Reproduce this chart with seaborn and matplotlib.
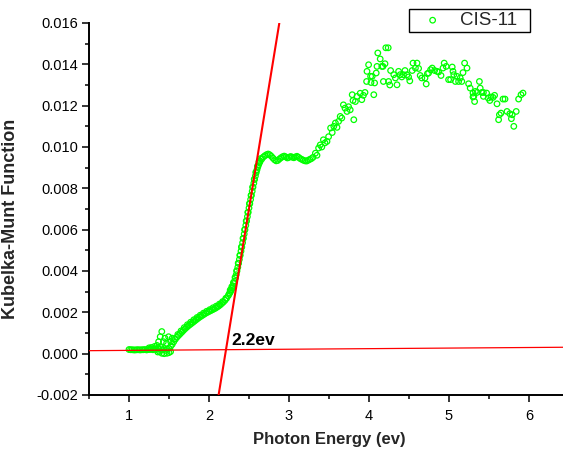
import numpy as np
import pandas as pd
import seaborn as sns
import matplotlib
matplotlib.use("Agg")
import matplotlib.pyplot as plt
from matplotlib.ticker import MultipleLocator, FormatStrFormatter

# ---------------- data ----------------
series_name = "CIS-11"

energy_low = [1.00, 1.02, 1.04, 1.06, 1.08, 1.10, 1.12, 1.14, 1.16, 1.18,
              1.20, 1.22, 1.24, 1.26, 1.28, 1.30, 1.32, 1.34, 1.36, 1.38,
              1.40, 1.42, 1.44, 1.46, 1.48, 1.50, 1.52, 1.54, 1.56, 1.58,
              1.60, 1.62, 1.64, 1.66, 1.68, 1.70, 1.72, 1.74, 1.76, 1.78,
              1.80, 1.82, 1.84, 1.86, 1.88, 1.90, 1.92, 1.94, 1.96, 1.98,
              2.00, 2.02, 2.04, 2.06, 2.08, 2.10, 2.12, 2.14, 2.16, 2.18,
              2.20, 2.22, 2.24]
km_low = [0.00020, 0.00019, 0.00019, 0.00018, 0.00018, 0.00019, 0.00019, 0.00018, 0.00019, 0.00019,
          0.00020, 0.00018, 0.00020, 0.00020, 0.00022, 0.00019, 0.00024, 0.00020, 0.00028, 0.00022,
          0.00030, 0.00018, 0.00024, 0.00016, 0.00022, 0.00026, 0.00035, 0.00045, 0.00058, 0.00070,
          0.00080, 0.00088, 0.00096, 0.00104, 0.00112, 0.00120, 0.00127, 0.00134, 0.00140, 0.00146,
          0.00152, 0.00158, 0.00164, 0.00170, 0.00176, 0.00181, 0.00186, 0.00191, 0.00196, 0.00200,
          0.00204, 0.00208, 0.00212, 0.00216, 0.00220, 0.00225, 0.00230, 0.00236, 0.00243, 0.00250,
          0.00258, 0.00268, 0.00280]

# upper edge of the thick low-energy band
energy_low_upper = [1.57, 1.61, 1.65, 1.69, 1.73, 1.77, 1.81, 1.85, 1.89, 1.93,
                    1.97, 2.01, 2.05, 2.09, 2.13, 2.17, 2.21]
km_low_upper = [0.00072, 0.00093, 0.00110, 0.00126, 0.00140, 0.00152, 0.00164, 0.00175, 0.00186, 0.00196,
                0.00205, 0.00213, 0.00222, 0.00230, 0.00240, 0.00252, 0.00268]

energy_noise = [1.32, 1.35, 1.37, 1.39, 1.41, 1.43, 1.45, 1.47, 1.495, 1.52,
                1.54, 1.36, 1.38, 1.41, 1.44, 1.475, 1.50, 1.52, 1.28, 1.25]
km_noise = [0.00035, 0.00040, 0.00058, 0.00082, 0.00107, 0.00058, 0.00075, 0.00050, 0.00082, 0.00058,
            0.00075, 0.00008, 0.00010, 0.00002, 0.00000, 0.00002, 0.00005, 0.00010, 0.00030, 0.00028]

energy_edge = [2.25, 2.26, 2.27, 2.28, 2.29, 2.30, 2.31, 2.32, 2.33, 2.34,
               2.35, 2.36, 2.37, 2.38, 2.39, 2.40, 2.41, 2.42, 2.43, 2.44,
               2.45, 2.46, 2.47, 2.48, 2.49, 2.50, 2.51, 2.52, 2.53, 2.54,
               2.55, 2.56, 2.57, 2.58, 2.59, 2.60, 2.61, 2.62, 2.63, 2.64,
               2.66]
km_edge = [0.00288, 0.00294, 0.00301, 0.00309, 0.00318, 0.00328, 0.00339, 0.00351, 0.00366, 0.00382,
           0.00400, 0.00418, 0.00437, 0.00456, 0.00476, 0.00496, 0.00516, 0.00537, 0.00558, 0.00579,
           0.00600, 0.00621, 0.00642, 0.00663, 0.00684, 0.00705, 0.00726, 0.00746, 0.00766, 0.00786,
           0.00806, 0.00825, 0.00843, 0.00860, 0.00876, 0.00890, 0.00903, 0.00914, 0.00923, 0.00931,
           0.00942]

# left edge of the thick absorption-edge band
energy_edge_upper = [2.265, 2.285, 2.305, 2.325, 2.345, 2.365, 2.385, 2.405, 2.425, 2.445,
                     2.465, 2.485, 2.505, 2.525, 2.545, 2.565, 2.585, 2.605, 2.625, 2.645]
km_edge_upper = [0.00308, 0.00324, 0.00344, 0.00369, 0.00401, 0.00438, 0.00476, 0.00516, 0.00558, 0.00600,
                 0.00642, 0.00684, 0.00726, 0.00766, 0.00806, 0.00844, 0.00878, 0.00907, 0.00929, 0.00944]

energy_plateau = [2.68, 2.70, 2.72, 2.74, 2.76, 2.78, 2.80, 2.82, 2.84, 2.86,
                  2.88, 2.90, 2.92, 2.94, 2.96, 2.98, 3.00, 3.02, 3.04, 3.06,
                  3.08, 3.10, 3.12, 3.14, 3.16, 3.18, 3.20, 3.22, 3.24, 3.26,
                  3.28, 3.30]
km_plateau = [0.00952, 0.00958, 0.00963, 0.00966, 0.00962, 0.00955, 0.00946, 0.00938, 0.00933, 0.00935,
              0.00942, 0.00948, 0.00953, 0.00956, 0.00952, 0.00947, 0.00950, 0.00954, 0.00951, 0.00948,
              0.00952, 0.00955, 0.00950, 0.00944, 0.00940, 0.00936, 0.00933, 0.00932, 0.00936, 0.00940,
              0.00944, 0.00950]

energy_high = [3.33, 3.35, 3.37, 3.39, 3.41, 3.43, 3.45, 3.475, 3.495, 3.52,
               3.54, 3.56, 3.58, 3.60, 3.62, 3.64, 3.66, 3.68, 3.70, 3.725,
               3.745, 3.765, 3.79, 3.80, 3.81, 3.83, 3.85, 3.89, 3.91, 3.93,
               3.95, 3.97, 3.975, 3.995, 4.02, 4.025, 4.04, 4.06, 4.07, 4.09,
               4.10, 4.11, 4.14, 4.16, 4.175, 4.18, 4.20, 4.21, 4.24, 4.245,
               4.26, 4.27, 4.31, 4.33, 4.35, 4.37, 4.39, 4.41, 4.43, 4.45,
               4.475, 4.495, 4.51, 4.54, 4.55, 4.58, 4.60, 4.62, 4.64, 4.66,
               4.70, 4.715, 4.73, 4.745, 4.77, 4.79, 4.82, 4.85, 4.87, 4.90,
               4.925, 4.94, 4.965, 4.995, 5.02, 5.04, 5.05, 5.06, 5.08, 5.10,
               5.12, 5.14, 5.16, 5.175, 5.195, 5.225, 5.245, 5.265, 5.30, 5.30,
               5.31, 5.32, 5.33, 5.35, 5.38, 5.39, 5.41, 5.43, 5.43, 5.47,
               5.49, 5.51, 5.525, 5.55, 5.57, 5.60, 5.62, 5.63, 5.65, 5.675,
               5.70, 5.725, 5.76, 5.78, 5.79, 5.81, 5.84, 5.87, 5.90, 5.925]
km_high = [0.00970, 0.00960, 0.00995, 0.01010, 0.01000, 0.01035, 0.01020, 0.01027, 0.01050, 0.01092,
           0.01070, 0.01100, 0.01116, 0.01095, 0.01124, 0.01148, 0.01140, 0.01204, 0.01188, 0.01172,
           0.01195, 0.01180, 0.01253, 0.01225, 0.01132, 0.01220, 0.01245, 0.01260, 0.01229, 0.01250,
           0.01264, 0.01317, 0.01366, 0.01398, 0.01342, 0.01312, 0.01342, 0.01253, 0.01310, 0.01358,
           0.01390, 0.01455, 0.01426, 0.01390, 0.01390, 0.01317, 0.01403, 0.01480, 0.01480, 0.01317,
           0.01300, 0.01370, 0.01350, 0.01334, 0.01301, 0.01366, 0.01350, 0.01339, 0.01350, 0.01370,
           0.01350, 0.01339, 0.01320, 0.01370, 0.01406, 0.01382, 0.01406, 0.01380, 0.01346, 0.01334,
           0.01334, 0.01305, 0.01355, 0.01358, 0.01374, 0.01382, 0.01370, 0.01366, 0.01363, 0.01346,
           0.01382, 0.01406, 0.01390, 0.01326, 0.01326, 0.01387, 0.01366, 0.01350, 0.01317, 0.01342,
           0.01317, 0.01334, 0.01317, 0.01360, 0.01406, 0.01382, 0.01306, 0.01285, 0.01261, 0.01242,
           0.01245, 0.01220, 0.01269, 0.01264, 0.01317, 0.01285, 0.01264, 0.01245, 0.01264, 0.01261,
           0.01237, 0.01225, 0.01242, 0.01240, 0.01250, 0.01209, 0.01132, 0.01156, 0.01164, 0.01232,
           0.01232, 0.01172, 0.01161, 0.01137, 0.01156, 0.01100, 0.01172, 0.01232, 0.01253, 0.01261]

# tangent line and baseline (endpoints)
tangent_x = [2.12, 2.879]
tangent_y = [-0.002, 0.016]
base_x = [0.5, 6.5]
base_y = [0.000145, 0.000312]

gap_label = "2.2ev"
gap_label_pos = (2.275, 0.00042)

x_label = "Photon Energy (ev)"
y_label = "Kubelka-Munt Function"

# ---------------- build frame ----------------
energy = (energy_low + energy_low_upper + energy_noise + energy_edge
          + energy_edge_upper + energy_plateau + energy_high)
km = (km_low + km_low_upper + km_noise + km_edge
      + km_edge_upper + km_plateau + km_high)
df = pd.DataFrame({"energy": energy, "km": km})

# ---------------- style ----------------
sns.set_theme(style="ticks")
plt.rcParams["font.family"] = ["Liberation Sans", "DejaVu Sans"]

W, H = 563, 454
fig = plt.figure(figsize=(W / 100, H / 100), dpi=100)
ax = fig.add_axes([89 / W, (H - 395) / H, 480 / W, 372 / H])

green = "#00ff00"
sns.scatterplot(data=df, x="energy", y="km", ax=ax, marker="o",
                s=16, facecolor="none", edgecolor=green, linewidth=0.9,
                label=series_name, zorder=3)

ax.plot(base_x, base_y, color="#ff0000", lw=0.9, zorder=4)
ax.plot(tangent_x, tangent_y, color="#ff0000", lw=1.5, zorder=5)

ax.text(gap_label_pos[0], gap_label_pos[1], gap_label, fontsize=12.5,
        fontweight="bold", ha="left", va="baseline", color="black", zorder=6)

ax.set_xlim(0.5, 6.5)
ax.set_ylim(-0.002, 0.016)

ax.xaxis.set_major_locator(MultipleLocator(1))
ax.xaxis.set_minor_locator(MultipleLocator(0.5))
ax.yaxis.set_major_locator(MultipleLocator(0.002))
ax.yaxis.set_minor_locator(MultipleLocator(0.001))
ax.yaxis.set_major_formatter(FormatStrFormatter("%.3f"))
ax.xaxis.set_major_formatter(FormatStrFormatter("%d"))

ax.tick_params(which="major", direction="out", length=5, width=1.1,
               labelsize=10.5, colors="black", pad=3)
ax.tick_params(axis="x", which="major", pad=5)
ax.tick_params(which="minor", direction="out", length=3, width=1.1, colors="black")

for side in ["top", "right"]:
    ax.spines[side].set_visible(False)
for side in ["left", "bottom"]:
    ax.spines[side].set_linewidth(1.4)
    ax.spines[side].set_color("black")

ax.set_xlabel(x_label, fontsize=12, fontweight="bold")
ax.set_ylabel(y_label, fontsize=13, fontweight="bold")
ax.xaxis.set_label_coords(0.5, -0.1)
ax.yaxis.set_label_coords(-0.145, 0.474)

leg = ax.legend(loc="upper left", mode="expand",
                bbox_to_anchor=(409 / W, 1 - 36 / H, 121 / W, 27 / H),
                bbox_transform=fig.transFigure, borderaxespad=0,
                fontsize=13.5, frameon=True, fancybox=False, borderpad=0.16,
                handlelength=2.2, handletextpad=0.37, markerscale=1.0)
leg.get_frame().set_edgecolor("black")
leg.get_frame().set_linewidth(1.0)
leg.get_frame().set_alpha(1)

fig.savefig("out.png", dpi=100)
